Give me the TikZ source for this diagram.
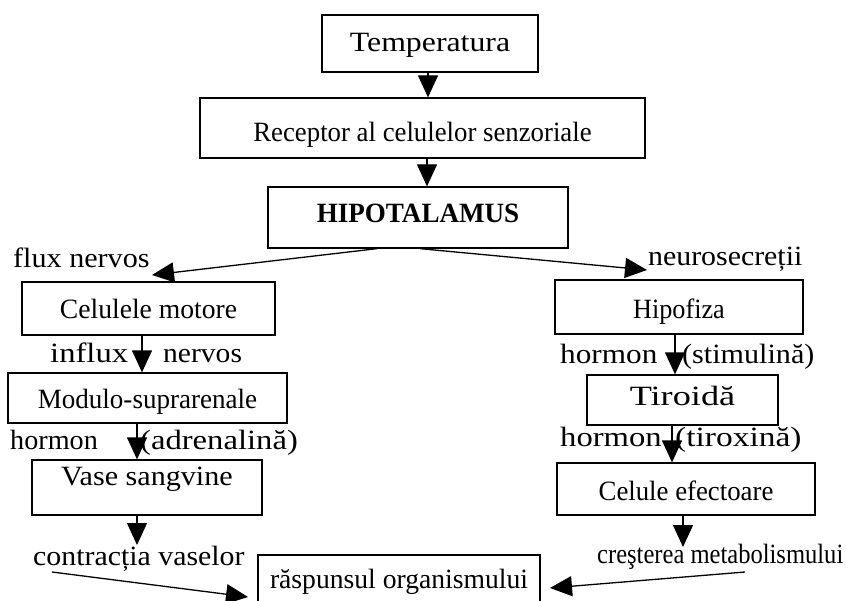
\documentclass[tikz,border=0pt]{standalone}
\usepackage{fontspec}
\setmainfont{Liberation Serif}
\usetikzlibrary{arrows.meta}
\newcommand\hsx[2]{\scalebox{#1}[1]{#2}}
\tikzset{
  box/.style={draw, line width=1.3bp, inner sep=0pt, font=\fontsize{28}{32}\selectfont},
  lbl/.style={anchor=base west, inner sep=0pt, font=\fontsize{28}{32}\selectfont},
  arr/.style={line width=1.3bp, -{Triangle[length=22bp,width=20bp]}},
}
\begin{document}
\begin{tikzpicture}[x=1bp,y=-1bp]
\clip (0,0) rectangle (846,601);
\fill[white] (0,0) rectangle (846,601);
% boxes
\node[box, minimum width=216bp, minimum height=57bp, text height=23.5bp, text depth=6.5bp] (temp) at (430,43.5) {\hsx{1.14}{Temperatura}};
\node[box, minimum width=445bp, minimum height=60bp, text height=29bp, text depth=1bp] (rec) at (422.5,128) {\hsx{0.96}{Receptor al celulelor senzoriale}};
\node[box, minimum width=300bp, minimum height=61bp, text height=20.5bp, text depth=9.5bp, font=\fontsize{28}{32}\selectfont\bfseries] (hip) at (418,217.5) {\hsx{0.97}{HIPOTALAMUS}};
\node[box, minimum width=253bp, minimum height=53bp, text height=24.5bp, text depth=5.5bp] (cm) at (148.5,308.5) {\hsx{0.99}{Celulele motore}};
\node[box, minimum width=279bp, minimum height=50bp, text height=25bp, text depth=5bp] (mod) at (147.5,398) {\hsx{0.97}{Modulo-suprarenale}};
\node[box, minimum width=230bp, minimum height=55bp, text height=12.5bp, text depth=17.5bp] (vase) at (147,487.5) {\hsx{1.08}{Vase sangvine}};
\node[box, minimum width=282bp, minimum height=60bp, text height=18bp, text depth=12bp] (rasp) at (399,585) {\hsx{0.99}{răspunsul organismului}};
\node[box, minimum width=248bp, minimum height=54bp, text height=26bp, text depth=4bp] (hipo) at (679,307) {\hsx{0.94}{Hipofiza}};
\node[box, minimum width=191bp, minimum height=50bp, text height=20bp, text depth=10bp] (tir) at (682.5,400) {\hsx{1.3}{Tiroidă}};
\node[box, minimum width=258bp, minimum height=52bp, text height=26bp, text depth=4bp] (cel) at (686,489) {\hsx{0.96}{Celule efectoare}};
% labels
\node[lbl] (lflux) at (13,267) {\hsx{1.08}{flux nervos}};
\node[lbl] (lneuro) at (648,265) {\hsx{1.07}{neurosecreții}};
\node[lbl] (linflux) at (50,362) {\hsx{1.17}{influx}};
\node[lbl] (lnervos) at (163,362) {\hsx{1.06}{nervos}};
\node[lbl] (lhorm1) at (10,449) {\hsx{1.01}{hormon}};
\node[lbl] (ladren) at (140,449) {\hsx{1.17}{(adrenalină)}};
\node[lbl] (lcontr) at (33,565) {\hsx{1.07}{contracția vaselor}};
\node[lbl] (lhorm2) at (560,363) {\hsx{1.12}{hormon}};
\node[lbl] (lstim) at (682,363) {\hsx{1.08}{(stimulină)}};
\node[lbl] (lhorm3) at (560,446) {\hsx{1.17}{hormon}};
\node[lbl] (ltirox) at (675,446) {\hsx{1.2}{(tiroxină)}};
\node[lbl] (lcrest) at (597,563) {\hsx{0.88}{creşterea metabolismului}};
% coordinates
\coordinate (fluxtip) at (152,275);
\coordinate (neurotip) at (647,270);
\coordinate (vtip) at (137,545);
\coordinate (ctip) at (683,547);
\coordinate (cstart) at (52,572);
\coordinate (cend) at (248,597);
\coordinate (mstart) at (745,572);
\coordinate (mend) at (550,588);
% arrows
\draw[arr] (428,0 |- temp.south) -- (428,0 |- rec.north);
\draw[arr] (427,0 |- rec.south) -- (427,0 |- hip.north);
\draw[arr] (377,0 |- hip.south) -- (fluxtip);
\draw[arr] (420,0 |- hip.south) -- (neurotip);
\draw[arr] (142,0 |- cm.south) -- (142,0 |- mod.north);
\draw[arr] (137,0 |- mod.south) -- (137,0 |- vase.north);
\draw[arr] (137,0 |- vase.south) -- (vtip);
\draw[arr] (675,0 |- hipo.south) -- (675,0 |- tir.north);
\draw[arr] (672,0 |- tir.south) -- (672,0 |- cel.north);
\draw[arr] (683,0 |- cel.south) -- (ctip);
\draw[arr] (cstart) -- (cend);
\draw[arr] (mstart) -- (mend);
\end{tikzpicture}
\end{document}
